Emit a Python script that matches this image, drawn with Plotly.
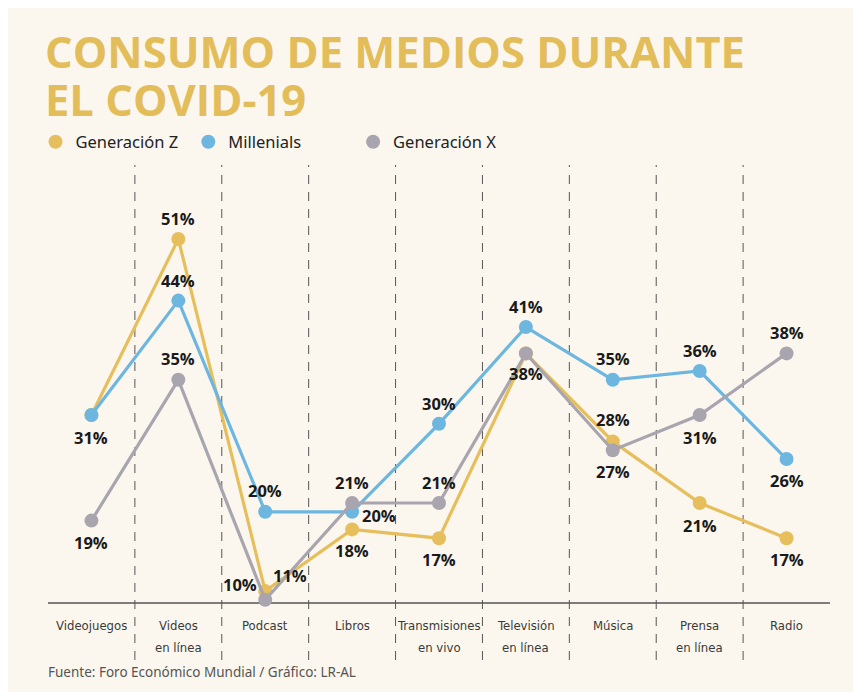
import plotly.graph_objects as go

categories = ["Videojuegos", "Videos<br>en línea", "Podcast", "Libros", "Transmisiones<br>en vivo",
              "Televisión<br>en línea", "Música", "Prensa<br>en línea", "Radio"]
gen_z = [31, 51, 11, 18, 17, 38, 28, 21, 17]
millenials = [31, 44, 20, 20, 30, 41, 35, 36, 26]
gen_x = [19, 35, 10, 21, 21, 38, 27, 31, 38]
series_names = ["Generación Z", "Millenials", "Generación X"]

# label placement per point (style only): (xshift, yshift) or None for no label
lab_z = [(0, -22), (0, 21), (25, 16), (0, -21), (0, -21), (0, -20), (0, 22), (0, -22), (0, -21)]
lab_m = [None, (0, 20), (0, 21), (27, -4), (0, 20), (0, 21), (0, 21), (0, 21), (0, -21)]
lab_x = [(0, -22), (0, 21), (-25, 15), (0, 21), (0, 21), None, (0, -21), (0, -22), (0, 21)]

colors = ["#E6BF5C", "#6DB6E0", "#A9A5AF"]
W, H = 861, 696
OFF = 8  # page body margin offset
def fx(x):
    return x - OFF
ML, MR = fx(47.5), W - fx(830.5)
MT, MB = fx(165), H - fx(660)
YMIN, YMAX = 3.16, 59.41
BASE = 9.64

pw, ph = W - ML - MR, H - MT - MB
def px(x):  # reference screen px -> paper
    return (fx(x) - ML) / pw
def py(y):
    return (H - MB - fx(y)) / ph

fig = go.Figure()
xs = list(range(len(categories)))
for name, vals, col in zip(series_names, [gen_z, millenials, gen_x], colors):
    fig.add_trace(go.Scatter(x=xs, y=vals, mode="lines+markers", name=name, showlegend=False,
                             line=dict(color=col, width=3.2),
                             marker=dict(color=col, size=14)))
legend_ids = ["legend", "legend2", "legend3"]
for name, col, lid in zip(series_names, colors, legend_ids):
    fig.add_trace(go.Scatter(x=[None], y=[None], mode="markers", name=name, legend=lid,
                             marker=dict(color=col, size=14)))

ann = []
for vals, labs in zip([gen_z, millenials, gen_x], [lab_z, lab_m, lab_x]):
    for i, (v, l) in enumerate(zip(vals, labs)):
        if l is None:
            continue
        ann.append(dict(x=i, y=v, text=f"<b>{v}%</b>", showarrow=False, xshift=l[0], yshift=l[1],
                        font=dict(family="Open Sans", size=16.5, color="#1a1a1a")))
for i, c in enumerate(categories):
    for j, line in enumerate(c.split("<br>")):
        ann.append(dict(x=i, y=py(625 + 22 * j), yref="paper", text=line, showarrow=False,
                        yanchor="middle",
                        font=dict(family="DejaVu Sans Condensed, Roboto", size=13, color="#3a3a3a")))

ann.append(dict(xref="paper", yref="paper", x=px(42), y=py(20), xanchor="left", yanchor="top",
                text="<b>CONSUMO DE MEDIOS DURANTE</b>", showarrow=False,
                font=dict(family="Open Sans", size=43.5, color="#E3BD5A")))
ann.append(dict(xref="paper", yref="paper", x=px(42), y=py(68), xanchor="left", yanchor="top",
                text="<b>EL COVID-19</b>", showarrow=False,
                font=dict(family="Open Sans", size=43.5, color="#E3BD5A")))
ann.append(dict(xref="paper", yref="paper", x=px(45), y=py(672), xanchor="left", yanchor="middle",
                text="Fuente: Foro Económico Mundial / Gráfico: LR-AL", showarrow=False,
                font=dict(family="Noto Sans", size=13.5, color="#555555")))

shapes = [dict(type="rect", xref="paper", yref="paper", x0=px(6), x1=px(857), y0=py(692), y1=py(6),
               fillcolor="#FBF7EE", line=dict(width=0), layer="below"),
          dict(type="line", xref="x", yref="y", x0=-0.5, x1=8.5, y0=BASE, y1=BASE,
               line=dict(color="#555555", width=1.5), layer="below")]
for k in range(len(categories) - 1):
    shapes.append(dict(type="line", xref="x", yref="y", x0=k + 0.5, x1=k + 0.5, y0=YMIN, y1=YMAX,
                       line=dict(color="#555555", width=1, dash="9px,8px"), layer="below"))

leg_font = dict(family="Noto Sans", size=16.5, color="#222")
legend_x = [57, 210, 375]
legs = {}
for lid, mx in zip(legend_ids, legend_x):
    legs[lid] = dict(orientation="h", x=px(mx - 22), y=py(142), xanchor="left", yanchor="middle",
                     font=leg_font, bgcolor="rgba(0,0,0,0)")

fig.update_layout(
    width=W, height=H, margin=dict(l=ML, r=MR, t=MT, b=MB, autoexpand=False),
    paper_bgcolor="white", plot_bgcolor="rgba(0,0,0,0)",
    xaxis=dict(range=[-0.5, 8.5], visible=False),
    yaxis=dict(range=[YMIN, YMAX], visible=False),
    annotations=ann, shapes=shapes, showlegend=True,
    **legs,
)
fig.write_html("out.html")
